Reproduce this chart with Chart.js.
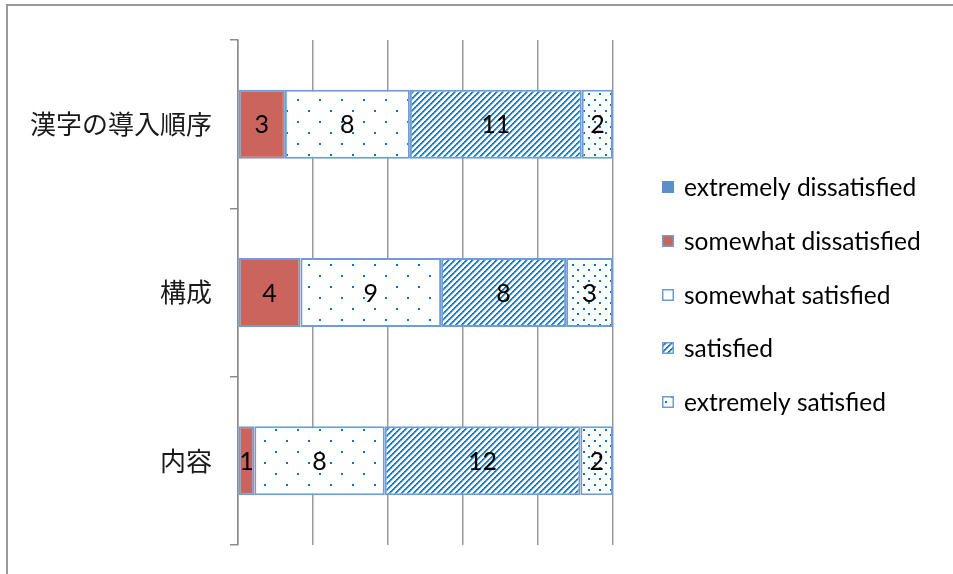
<!DOCTYPE html>
<html>
<head>
<meta charset="utf-8">
<script src="https://cdn.jsdelivr.net/npm/chart.js@4/dist/chart.umd.min.js"></script>
<style>
  html, body { margin: 0; padding: 0; background: #fff; overflow: hidden; }
  #wrap { position: relative; width: 953px; height: 574px; }
  #frame { position: absolute; left: 6px; top: 4px; width: 1000px; height: 1000px;
           border-top: 2px solid #9a9a9a; border-left: 2px solid #9a9a9a; pointer-events: none; }
  canvas { position: absolute; left: 0; top: 0; }
</style>
</head>
<body>
<div id="wrap"><canvas id="c" width="953" height="574"></canvas><div id="frame"></div></div>
<script>
// Survey answers per topic (number of respondents)
const categories = ['漢字の導入順序', '構成', '内容'];
const seriesNames = ['extremely dissatisfied', 'somewhat dissatisfied', 'somewhat satisfied', 'satisfied', 'extremely satisfied'];
const extremelyDissatisfied = [0, 0, 0];
const somewhatDissatisfied = [3, 4, 1];
const somewhatSatisfied = [8, 9, 8];
const satisfied = [11, 8, 12];
const extremelySatisfied = [2, 3, 2];

const counts = [extremelyDissatisfied, somewhatDissatisfied, somewhatSatisfied, satisfied, extremelySatisfied];
const rowTotals = categories.map((_, i) => counts.reduce((s, arr) => s + arr[i], 0));
const toShare = arr => arr.map((v, i) => v / rowTotals[i] * 100);

const canvas = document.getElementById('c');
const mainCtx = canvas.getContext('2d');

function makePattern(w, h, draw) {
  const t = document.createElement('canvas');
  t.width = w; t.height = h;
  const g = t.getContext('2d');
  g.fillStyle = '#ffffff';
  g.fillRect(0, 0, w, h);
  draw(g);
  return mainCtx.createPattern(t, 'repeat');
}
const dotBlue = '#0a74c6';
const sparseDots = makePattern(22, 22, g => {
  g.fillStyle = dotBlue;
  g.fillRect(0, 0, 2, 2);
  g.fillRect(11, 11, 2, 2);
});
const denseDots = makePattern(11, 11, g => {
  g.fillStyle = dotBlue;
  g.fillRect(0, 0, 2, 2);
  g.fillRect(5, 5, 2, 2);
});
const diagonal = makePattern(6, 6, g => {
  for (let i = 0; i < 6; i++) {
    g.fillStyle = i % 2 ? '#2f88d2' : dotBlue;
    g.fillRect(i, 5 - i, 1, 1);
    g.fillRect((i + 1) % 6, 5 - i, 1, 1);
    g.fillStyle = '#8cbde8';
    g.fillRect((i + 2) % 6, 5 - i, 1, 1);
  }
});

const edge = '#6f9cd4';
const fills = ['#5b8fcb', '#cb645d', sparseDots, diagonal, denseDots];
const legendFills = ['#5b8fcb', '#cb645d', '#ffffff', diagonal, denseDots];

const datasets = seriesNames.map((name, k) => ({
  label: name,
  counts: counts[k],
  data: toShare(counts[k]),
  backgroundColor: fills[k],
  legendFill: legendFills[k],
  borderColor: edge,
  borderWidth: 2,
  borderSkipped: false,
  barPercentage: 0.41,
  categoryPercentage: 1
}));

// Respondent counts written in the middle of each segment
const valueLabels = {
  id: 'valueLabels',
  afterDatasetsDraw(chart) {
    const ctx = chart.ctx;
    ctx.save();
    ctx.font = '25px Lato';
    ctx.fillStyle = '#000';
    ctx.textAlign = 'center';
    ctx.textBaseline = 'middle';
    chart.data.datasets.forEach((ds, di) => {
      chart.getDatasetMeta(di).data.forEach((bar, i) => {
        const v = ds.counts[i];
        if (!v) return;
        const p = bar.getProps(['x', 'y', 'base'], true);
        ctx.fillText(String(v), (p.x + p.base) / 2, p.y + 1);
      });
    });
    ctx.restore();
  }
};

// Legend column on the right of the plot
const sideLegend = {
  id: 'sideLegend',
  afterDraw(chart) {
    const ctx = chart.ctx;
    const a = chart.chartArea;
    const x0 = a.right + 49;
    const y0 = a.top + 147;
    const step = 53.8;
    ctx.save();
    ctx.font = '24.5px Lato';
    ctx.textAlign = 'left';
    ctx.textBaseline = 'middle';
    chart.data.datasets.forEach((ds, i) => {
      const y = Math.round(y0 + i * step);
      ctx.fillStyle = ds.legendFill;
      ctx.fillRect(x0, y - 6, 12, 12);
      ctx.strokeStyle = i === 0 ? ds.legendFill : ds.borderColor;
      ctx.lineWidth = 1.5;
      ctx.strokeRect(x0 + 0.75, y - 5.25, 10.5, 10.5);
      ctx.fillStyle = '#000';
      ctx.fillText(ds.label, x0 + 22, y + 1);
    });
    ctx.restore();
  }
};

function draw() {
  new Chart(canvas, {
    type: 'bar',
    data: { labels: categories, datasets },
    options: {
      indexAxis: 'y',
      responsive: false,
      animation: false,
      layout: { padding: { top: 40, bottom: 29, left: 0, right: 340 } },
      plugins: { legend: { display: false }, tooltip: { enabled: false } },
      scales: {
        x: {
          stacked: true,
          min: 0,
          max: 100,
          ticks: { display: false, stepSize: 20 },
          grid: { color: '#9a9a9a', lineWidth: 1.5, drawTicks: false },
          border: { display: false },
          afterFit(s) { s.height = 0; }
        },
        y: {
          stacked: true,
          grid: { drawOnChartArea: false, drawTicks: true, tickLength: 8, color: '#8c8c8c', lineWidth: 1.5 },
          border: { display: true, color: '#8c8c8c', width: 1.5 },
          ticks: { font: { family: '"Noto Sans CJK JP"', size: 26 }, color: '#1a1a1a', padding: 18 },
          afterFit(s) {
            s.width = 238;
            s.paddingTop = 0;
            s.paddingBottom = 0;
          }
        }
      }
    },
    plugins: [valueLabels, sideLegend]
  });
}

Promise.all([
  document.fonts.load('25px Lato'),
  document.fonts.load('26px "Noto Sans CJK JP"', '漢字')
]).then(draw, draw);
</script>
</body>
</html>
